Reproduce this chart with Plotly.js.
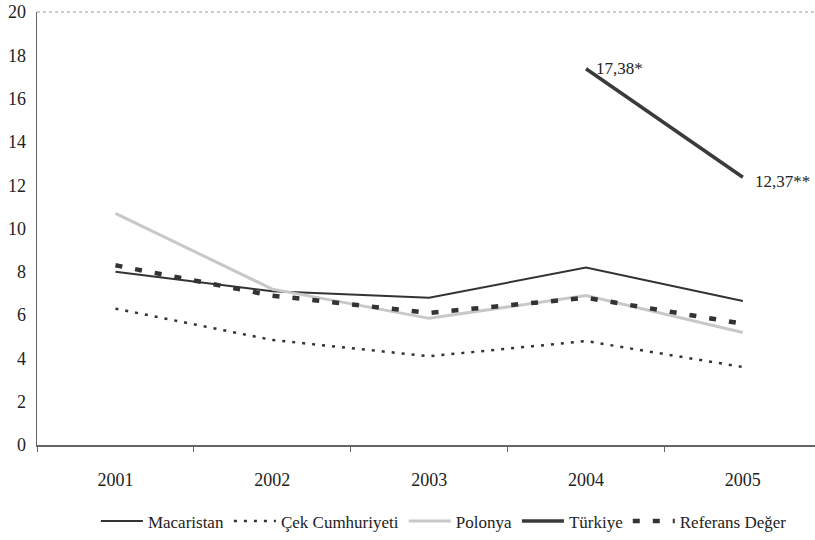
<!DOCTYPE html>
<html><head><meta charset="utf-8">
<script src="https://cdn.plot.ly/plotly-3.0.1.min.js"></script>
<style>body{margin:0;background:#fff}#c{width:815px;height:540px}</style>
</head><body><div id="c"></div>
<script>
const years = ['2001','2002','2003','2004','2005'];
const macaristan = [8.0, 7.1, 6.8, 8.2, 6.65];
const cek = [6.3, 4.85, 4.1, 4.8, 3.6];
const polonya = [10.7, 7.2, 5.85, 6.9, 5.2];
const turkiye = [null, null, null, 17.38, 12.37];
const referans = [8.3, 6.9, 6.1, 6.8, 5.6];
const turkiyeLabels = ['17,38*', '12,37**'];

const serif = 'Liberation Serif';
const traces = [
  {name:'Macaristan', x:years, y:macaristan, mode:'lines', line:{color:'#333', width:2}},
  {name:'Çek Cumhuriyeti', x:years, y:cek, mode:'lines', line:{color:'#333', width:2.5, dash:'3px,7px'}},
  {name:'Polonya', x:years, y:polonya, mode:'lines', line:{color:'#c8c8c8', width:3}},
  {name:'Türkiye', x:years, y:turkiye, mode:'lines', line:{color:'#3a3a3a', width:3.5}},
  {name:'Referans Değer', x:years, y:referans, mode:'lines', line:{color:'#333', width:4.5, dash:'7px,13px'}}
];
const layout = {
  width:815, height:540,
  margin:{l:37, r:0, t:12, b:88},
  paper_bgcolor:'#fff', plot_bgcolor:'#fff',
  font:{family:serif, size:17, color:'#222'},
  showlegend:true,
  legend:{orientation:'h', x:0.523, xanchor:'center', y:-0.135, yanchor:'top', itemwidth:42,
          font:{family:serif, size:17, color:'#222'}},
  xaxis:{type:'category', range:[-0.5, 4.46], showline:true, linecolor:'#666', linewidth:1.5,
         ticks:'outside', tickson:'boundaries', ticklen:5, tickcolor:'#666',
         ticklabelstandoff:18,
         showgrid:false, zeroline:false, tickfont:{family:serif, size:18, color:'#222'}},
  yaxis:{range:[0,20], dtick:2, showline:true, linecolor:'#666', linewidth:1.5,
         ticks:'', ticklabelstandoff:6, showgrid:false, zeroline:false,
         tickfont:{family:serif, size:18, color:'#222'}},
  shapes:[{type:'line', xref:'paper', yref:'paper', x0:0, x1:1, y0:1, y1:1,
           line:{color:'#999', width:1.2, dash:'dot'}}],
  annotations:[
    {x:3, y:turkiye[3], xref:'x', yref:'y', text:turkiyeLabels[0], showarrow:false, xanchor:'left', xshift:8, yshift:0,
     font:{family:serif, size:17, color:'#222'}},
    {x:4, y:turkiye[4], xref:'x', yref:'y', text:turkiyeLabels[1], showarrow:false, xanchor:'left', xshift:10, yshift:-4,
     font:{family:serif, size:17, color:'#222'}}
  ]
};
Plotly.newPlot('c', traces, layout, {displayModeBar:false, staticPlot:true});
</script></body></html>
